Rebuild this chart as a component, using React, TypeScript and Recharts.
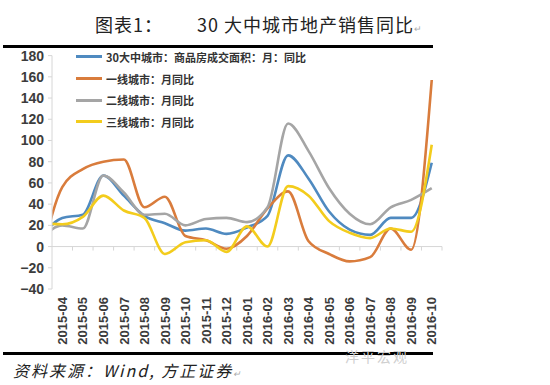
import React from 'react';
import { LineChart, Line, XAxis, YAxis, ReferenceLine, Legend } from 'recharts';

// Monthly YoY (%). The first month (2015-03) lies just before the axis start and is clipped.
const months = [
  '2015-03', '2015-04', '2015-05', '2015-06', '2015-07', '2015-08', '2015-09', '2015-10',
  '2015-11', '2015-12', '2016-01', '2016-02', '2016-03', '2016-04', '2016-05', '2016-06',
  '2016-07', '2016-08', '2016-09', '2016-10',
];
const city30 = [10, 27, 30, 67, 48, 29, 22, 15, 17, 12, 18, 29, 86, 64, 33, 16, 11, 27, 27, 79];
const tier1 = [-8, 56, 73, 80, 82, 37, 47, 10, 6, -2, 10, 36, 52, 5, -7, -14, -10, 17, -3, 157];
const tier2 = [8, 20, 17, 67, 51, 30, 31, 20, 26, 27, 23, 37, 116, 90, 55, 31, 21, 37, 44, 55];
const tier3 = [22, 21, 28, 48, 34, 27, -7, 4, 6, -5, 19, 0, 57, 48, 24, 13, 8, 17, 14, 96];

const seriesNames = [
  '30大中城市：商品房成交面积：月：同比',
  '一线城市：月同比',
  '二线城市：月同比',
  '三线城市：月同比',
];
const yTicks = [-40, -20, 0, 20, 40, 60, 80, 100, 120, 140, 160, 180];

const COLORS = ['#4f8ac0', '#d97c3c', '#a5a5a5', '#f3cc1c'];
const AXIS = '#d6d6d6';

const data = months.map((m, i) => ({
  idx: i - 1,
  month: m,
  c30: city30[i],
  t1: tier1[i],
  t2: tier2[i],
  t3: tier3[i],
}));
const xTicks = months.slice(1).map((_, i) => i);

const MonthTick = (props: any) => {
  const { x, y, payload } = props;
  const label = months[payload.value + 1];
  return (
    <g transform={`translate(${x},${y})`}>
      <text
        transform="rotate(-90)"
        x={0}
        y={0}
        dy="0.36em"
        textAnchor="end"
        fontFamily="Liberation Sans, Arial, sans-serif"
        fontSize={13}
        fontWeight="bold"
        fill="#3c3c3c"
      >
        {label}
      </text>
    </g>
  );
};

const ZeroAxis = (props: any) => {
  const { x1, y1, x2, y2 } = props;
  const n = months.length - 1;
  const bw = (x2 - x1) / n;
  const marks = [];
  for (let k = 1; k <= n; k++) {
    const tx = x1 + k * bw;
    marks.push(<line key={k} x1={tx} x2={tx} y1={y1} y2={y1 + 4} stroke={AXIS} strokeWidth={1} />);
  }
  return (
    <g>
      <line x1={x1} y1={y1} x2={x2} y2={y2} stroke={AXIS} strokeWidth={1} />
      {marks}
    </g>
  );
};

const LegendContent = (props: any) => {
  const items = [...(props.payload || [])].sort(
    (a: any, b: any) => seriesNames.indexOf(a.value) - seriesNames.indexOf(b.value)
  );
  return (
    <div style={{ fontFamily: '"Noto Sans CJK SC", sans-serif', fontSize: 11, color: '#333' }}>
      {items.map((p: any, i: number) => (
        <div key={i} style={{ display: 'flex', alignItems: 'center', height: 21.7, whiteSpace: 'nowrap' }}>
          <span style={{ display: 'inline-block', width: 26, height: 3, background: p.color, marginRight: 4 }} />
          <span style={{ fontWeight: 'bold' }}>{p.value}</span>
        </div>
      ))}
    </div>
  );
};

export default function App() {
  return (
    <div style={{ position: 'absolute', left: 0, top: 0, width: 550, height: 385, background: '#fff', overflow: 'hidden' }}>
      <div
        style={{
          position: 'absolute',
          left: 95,
          top: 12,
          fontFamily: '"Noto Sans CJK SC", sans-serif',
          fontSize: 18,
          lineHeight: '24px',
          color: '#222',
          whiteSpace: 'pre',
          letterSpacing: 1,
        }}
      >
        <span>图表1：</span>
        <span style={{ position: 'absolute', left: 102 }}>
          30 大中城市地产销售同比<span style={{ fontSize: 9, color: '#aaa' }}>↵</span>
        </span>
      </div>
      <div style={{ position: 'absolute', left: 3, top: 44.5, width: 430, height: 3, background: '#000' }} />
      <div style={{ position: 'absolute', left: 3, top: 352, width: 430, height: 3, background: '#000' }} />
      <div
        style={{
          position: 'absolute',
          left: 345,
          top: 346,
          fontFamily: '"Noto Sans CJK SC", sans-serif',
          fontSize: 14,
          color: '#cfcfcf',
          letterSpacing: 2,
        }}
      >
        洋平宏观
      </div>
      <div
        style={{
          position: 'absolute',
          left: 13,
          top: 358,
          fontFamily: '"Noto Sans CJK SC", sans-serif',
          fontSize: 16,
          fontStyle: 'italic',
          letterSpacing: 2,
          color: '#222',
          whiteSpace: 'pre',
        }}
      >
        资料来源：Wind, 方正证券<span style={{ fontSize: 9, color: '#aaa' }}>↵</span>
      </div>
      <div style={{ position: 'absolute', left: 0, top: 0 }}>
        <LineChart width={550} height={385} data={data} margin={{ top: 55.6, right: 108, bottom: 36, left: 12 }}>
          <XAxis
            type="number"
            dataKey="idx"
            domain={[-0.5, 18.5]}
            ticks={xTicks}
            interval={0}
            allowDataOverflow
            axisLine={false}
            tickLine={false}
            tickSize={6}
            tickMargin={2}
            height={60}
            tick={<MonthTick />}
          />
          <YAxis
            domain={[-40, 180]}
            ticks={yTicks}
            interval={0}
            width={40}
            tickSize={4}
            tickMargin={4}
            axisLine={{ stroke: AXIS }}
            tickLine={{ stroke: AXIS }}
            tickFormatter={(v: number) => String(v).replace('-', '\u2212')}
            tick={{ fontFamily: 'Liberation Sans, Arial, sans-serif', fontSize: 14, fontWeight: 'bold', fill: '#3c3c3c' }}
          />
          <ReferenceLine y={0} shape={<ZeroAxis />} />
          <Legend
            layout="vertical"
            align="center"
            verticalAlign="middle"
            content={<LegendContent />}
            wrapperStyle={{ left: 76, top: 46, width: 'auto', height: 'auto' }}
          />
          <Line type="monotone" dataKey="c30" name={seriesNames[0]} stroke={COLORS[0]} strokeWidth={2.6} dot={false} isAnimationActive={false} />
          <Line type="monotone" dataKey="t1" name={seriesNames[1]} stroke={COLORS[1]} strokeWidth={2.6} dot={false} isAnimationActive={false} />
          <Line type="monotone" dataKey="t2" name={seriesNames[2]} stroke={COLORS[2]} strokeWidth={2.6} dot={false} isAnimationActive={false} />
          <Line type="monotone" dataKey="t3" name={seriesNames[3]} stroke={COLORS[3]} strokeWidth={2.6} dot={false} isAnimationActive={false} />
        </LineChart>
      </div>
    </div>
  );
}
